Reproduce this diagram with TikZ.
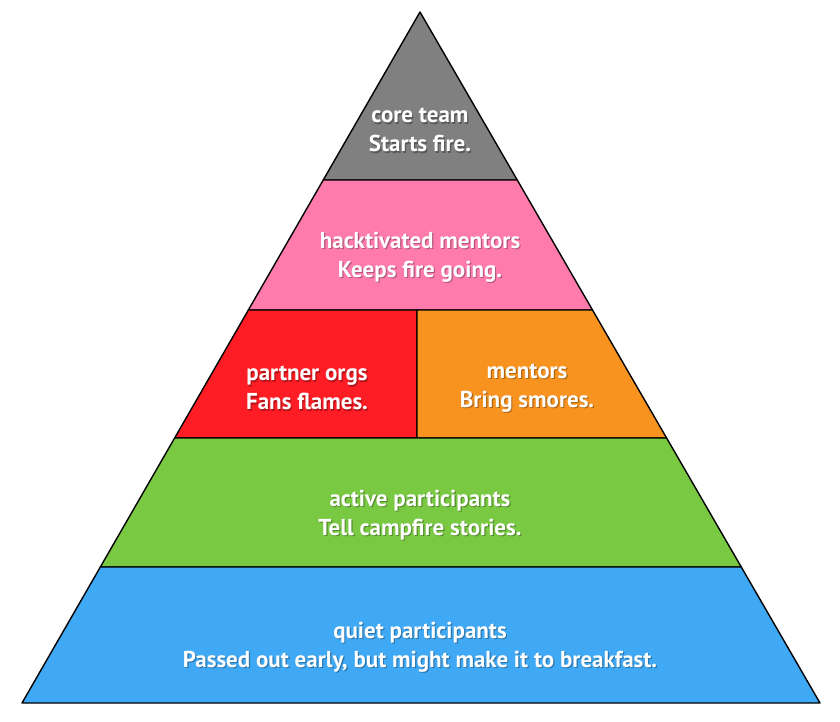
\documentclass[tikz,border=0pt]{standalone}
\usepackage{fontspec}
\setmainfont{PT Sans}
\usetikzlibrary{calc}

\definecolor{coregray}{HTML}{808080}
\definecolor{mentorpink}{HTML}{FF7BAC}
\definecolor{partnerred}{HTML}{FF1D25}
\definecolor{smoreorange}{HTML}{F7931E}
\definecolor{activegreen}{HTML}{7AC943}
\definecolor{quietblue}{HTML}{3FA9F5}

% label with a soft shadow behind it
\newcommand{\bandlabel}[4]{%
  \node[shd] (#1-sh) at ($(#2,#3)+(1.2,1.6)$) {#4};
  \node[lbl] (#1) at (#2,#3) {#4};}

\begin{document}
\begin{tikzpicture}[x=1pt,y=-1pt,
  band/.style={draw=black,line width=1.4pt,line join=round},
  lbl/.style={text=white,font=\fontsize{23}{29}\selectfont\bfseries,align=center},
  shd/.style={lbl,text=black,opacity=0.3}]
\useasboundingbox (0,0) rectangle (840,721);
%----outline points------------------------------
\coordinate (apex) at (420,12);
\coordinate (bl) at (22,703);
\coordinate (br) at (820,703);
\coordinate (l1) at ($(apex)!0.2431!(bl)$);
\coordinate (r1) at ($(apex)!0.2431!(br)$);
\coordinate (l2) at ($(apex)!0.4313!(bl)$);
\coordinate (r2) at ($(apex)!0.4313!(br)$);
\coordinate (l3) at ($(apex)!0.6165!(bl)$);
\coordinate (r3) at ($(apex)!0.6165!(br)$);
\coordinate (l4) at ($(apex)!0.8032!(bl)$);
\coordinate (r4) at ($(apex)!0.8032!(br)$);
\coordinate (d1) at (417,310);
\coordinate (d2) at (417,438);
%----bands---------------------------------------
\draw[band,fill=coregray] (apex) -- (r1) -- (l1) -- cycle;
\draw[band,fill=mentorpink] (l1) -- (r1) -- (r2) -- (l2) -- cycle;
\draw[band,fill=partnerred] (l2) -- (d1) -- (d2) -- (l3) -- cycle;
\draw[band,fill=smoreorange] (d1) -- (r2) -- (r3) -- (d2) -- cycle;
\draw[band,fill=activegreen] (l3) -- (r3) -- (r4) -- (l4) -- cycle;
\draw[band,fill=quietblue] (l4) -- (r4) -- (br) -- (bl) -- cycle;
%----text----------------------------------------
\bandlabel{core}{420}{130}{core team\\Starts fire.}
\bandlabel{hack}{420}{257}{hacktivated mentors\\Keeps fire going.}
\bandlabel{partner}{307}{388}{partner orgs\\Fans flames.}
\bandlabel{mentors}{527}{388}{mentors\\Bring smores.}
\bandlabel{active}{420}{515}{active participants\\Tell campfire stories.}
\bandlabel{quiet}{420}{647}{quiet participants\\Passed out early, but might make it to breakfast.}
\end{tikzpicture}
\end{document}
